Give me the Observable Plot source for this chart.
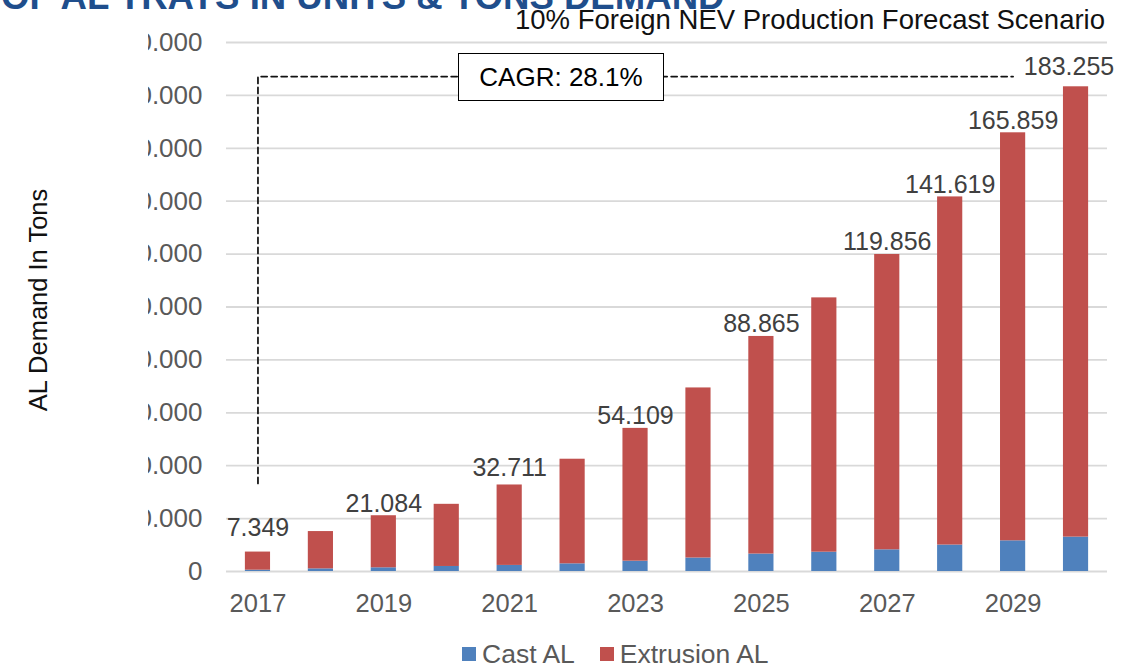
<!DOCTYPE html>
<html>
<head>
<meta charset="utf-8">
<script src="https://cdn.jsdelivr.net/npm/d3@7"></script>
<script src="https://cdn.jsdelivr.net/npm/@observablehq/plot@0.6"></script>
<style>
  html, body { margin: 0; padding: 0; background: #fff; }
  body { font-family: "Liberation Sans", Arial, sans-serif; }
  #wrap { position: relative; width: 1134px; height: 669px; overflow: hidden; }
  #title { position: absolute; left: 1px; top: -21px; font-size: 36.6px; line-height: 1; font-weight: bold; color: #1F4E8C; white-space: nowrap; }
  #subtitle { position: absolute; left: 0; width: 1105px; top: 6px; text-align: right; font-size: 27.5px; line-height: 1; color: #111; white-space: nowrap; }
  #cagr { position: absolute; left: 458px; top: 53px; width: 204px; height: 46px; border: 1.5px solid #000; background: #fff; font-size: 26px; line-height: 46px; text-align: center; color: #000; }
  #mask { position: absolute; left: 60px; top: 25px; width: 88px; height: 510px; background: #fff; }
  #ytitle { position: absolute; left: -112px; top: 287px; width: 300px; height: 26px; font-size: 25.5px; line-height: 26px; text-align: center; color: #111; transform: rotate(-90deg); white-space: nowrap; }
  #legend { position: absolute; top: 641px; left: 462px; display: flex; align-items: center; font-size: 26.5px; line-height: 1; color: #595959; white-space: nowrap; }
  #legend .sw { display: inline-block; width: 14px; height: 14px; margin-right: 6px; }
  #legend .item { display: flex; align-items: center; margin-right: 25px; }
</style>
</head>
<body>
<div id="wrap">
  <div id="chart"></div>
  <div id="mask"></div>
  <div id="ytitle">AL Demand In Tons</div>
  <div id="title">OF AL TRAYS IN UNITS &amp; TONS DEMAND</div>
  <div id="subtitle">10% Foreign NEV Production Forecast Scenario</div>
  <div id="cagr">CAGR: 28.1%</div>
  <div id="legend"></div>
</div>
<script>
// ---- data ----
const years = ["2017","2018","2019","2020","2021","2022","2023","2024","2025","2026","2027","2028","2029","2030"];
const totals = [7349, 15100, 21084, 25400, 32711, 42450, 54109, 69400, 88865, 103450, 119856, 141619, 165859, 183255];
const castAL = [500, 1000, 1400, 1900, 2300, 2900, 3900, 5100, 6600, 7300, 8200, 10000, 11600, 13000];
const series = ["Cast AL", "Extrusion AL"];
const colors = ["#4F81BD", "#C0504D"];
const xTickLabels = ["2017","2019","2021","2023","2025","2027","2029"];
const yTicks = [0, 20000, 40000, 60000, 80000, 100000, 120000, 140000, 160000, 180000, 200000];
const cagrLine = {from: "2017", to: "2029", bottom: 33300, top: 187100};

// ---- build ----
const extrusionAL = totals.map((t, i) => t - castAL[i]);
const rows = [];
years.forEach((y, i) => {
  rows.push({year: y, series: series[0], value: castAL[i]});
  rows.push({year: y, series: series[1], value: extrusionAL[i]});
});
const totalRows = years.map((y, i) => ({year: y, total: totals[i]}));
const locale = d3.formatLocale({decimal: ",", thousands: ".", grouping: [3], currency: ["", ""]});
const fmt = locale.format(",");
const lab = (ys) => totalRows.filter(d => ys.includes(d.year));

const lineData = [
  {x: cagrLine.from, y: cagrLine.bottom},
  {x: cagrLine.from, y: cagrLine.top},
  {x: cagrLine.to, y: cagrLine.top}
];

const font = "Liberation Sans, Arial, sans-serif";
const labelStyle = {x: "year", y: "total", text: d => fmt(d.total), lineAnchor: "bottom", fontSize: 25, fill: "#404040"};

const chart = Plot.plot({
  width: 1134,
  height: 630,
  marginLeft: 226,
  marginRight: 27,
  marginTop: 42,
  marginBottom: 59,
  style: {fontFamily: font, background: "transparent", overflow: "visible"},
  x: {domain: years, paddingInner: 0.6, paddingOuter: 0.3, round: false, label: null},
  y: {domain: [0, 200000], label: null},
  color: {domain: series, range: colors},
  marks: [
    Plot.gridY(yTicks, {stroke: "#d9d9d9", strokeOpacity: 1, strokeWidth: 1.8}),
    Plot.axisY(yTicks, {tickSize: 0, tickPadding: 24, tickFormat: fmt, fontSize: 26, fill: "#595959", label: null}),
    Plot.axisX(xTickLabels, {tickSize: 0, tickPadding: 22, fontSize: 25.5, fill: "#595959", label: null}),
    Plot.barY(rows, {x: "year", y: "value", fill: "series"}),
    Plot.line(lineData, {x: "x", y: "y", stroke: "#111", strokeWidth: 1.75, strokeDasharray: "6,4"}),
    Plot.text(lab(["2019","2023","2025","2027","2028","2029"]), {...labelStyle, dy: -4}),
    Plot.text(lab(["2021"]), {...labelStyle, dy: -9}),
    Plot.text(lab(["2017"]), {...labelStyle, dy: -16}),
    Plot.text(lab(["2030"]), {...labelStyle, dy: -12, dx: -7})
  ]
});
document.getElementById("chart").appendChild(chart);

const legend = document.getElementById("legend");
series.forEach((s, i) => {
  const item = document.createElement("span");
  item.className = "item";
  const sw = document.createElement("span");
  sw.className = "sw";
  sw.style.background = colors[i];
  item.appendChild(sw);
  item.appendChild(document.createTextNode(s));
  legend.appendChild(item);
});
</script>
</body>
</html>
